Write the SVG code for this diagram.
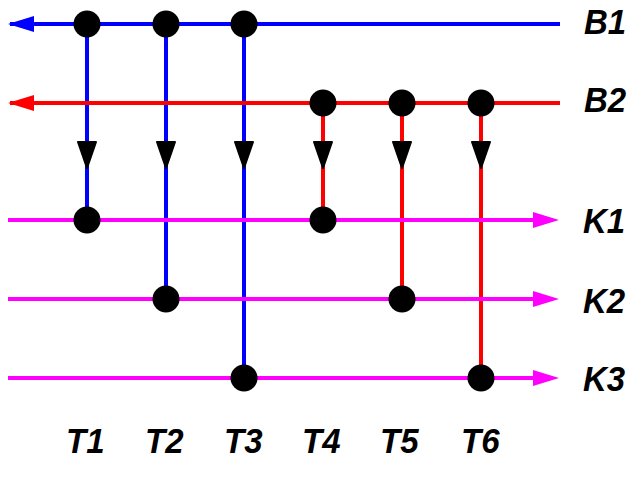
<svg xmlns="http://www.w3.org/2000/svg" width="642" height="504" viewBox="0 0 642 504">
<style>
.b{stroke:#0000ff;stroke-width:4;fill:none}
.r{stroke:#ff0000;stroke-width:4;fill:none}
.m{stroke:#ff00ff;stroke-width:4;fill:none}
.dot{fill:#000}
.va{fill:#000;stroke:#000;stroke-width:2;stroke-linejoin:round}
.lbl{font-family:"Liberation Sans",Arial,sans-serif;font-weight:bold;font-style:italic;font-size:33px;fill:#000}
</style>
<rect width="642" height="504" fill="#fff"/>
<g id="connectors">
<line class="b" x1="87" y1="24" x2="87" y2="220"/>
<line class="b" x1="166" y1="24" x2="166" y2="299"/>
<line class="b" x1="244" y1="24" x2="244" y2="378"/>
<line class="r" x1="323" y1="103" x2="323" y2="220"/>
<line class="r" x1="402" y1="103" x2="402" y2="299"/>
<line class="r" x1="481" y1="103" x2="481" y2="378"/>
</g>
<g id="B1">
<line class="b" x1="10" y1="24" x2="560" y2="24"/>
<polygon points="8,24 34,16 34,32" fill="#0000ff"/>
<text class="lbl" transform="translate(584,34) scale(1,1.07)">B1</text>
</g>
<g id="B2">
<line class="r" x1="10" y1="103" x2="560" y2="103"/>
<polygon points="8,103 34,95 34,111" fill="#ff0000"/>
<text class="lbl" transform="translate(584,112) scale(1,1.07)">B2</text>
</g>
<g id="K1">
<line class="m" x1="8" y1="220" x2="540" y2="220"/>
<polygon points="559,220 533,212 533,228" fill="#ff00ff"/>
<text class="lbl" transform="translate(583,233) scale(1,1.07)">K1</text>
</g>
<g id="K2">
<line class="m" x1="8" y1="299" x2="540" y2="299"/>
<polygon points="559,299 533,291 533,307" fill="#ff00ff"/>
<text class="lbl" transform="translate(583,313) scale(1,1.07)">K2</text>
</g>
<g id="K3">
<line class="m" x1="8" y1="378" x2="540" y2="378"/>
<polygon points="559,378 533,370 533,386" fill="#ff00ff"/>
<text class="lbl" transform="translate(583,391) scale(1,1.07)">K3</text>
</g>
<g id="junctions">
<circle class="dot" cx="87" cy="24" r="13.5"/>
<circle class="dot" cx="166" cy="24" r="13.5"/>
<circle class="dot" cx="244" cy="24" r="13.5"/>
<circle class="dot" cx="323" cy="103" r="13.5"/>
<circle class="dot" cx="402" cy="103" r="13.5"/>
<circle class="dot" cx="481" cy="103" r="13.5"/>
<circle class="dot" cx="87" cy="220" r="13.5"/>
<circle class="dot" cx="323" cy="220" r="13.5"/>
<circle class="dot" cx="166" cy="299" r="13.5"/>
<circle class="dot" cx="402" cy="299" r="13.5"/>
<circle class="dot" cx="244" cy="378" r="13.5"/>
<circle class="dot" cx="481" cy="378" r="13.5"/>
</g>
<g id="arrowheads">
<polygon class="va" points="78,142 96,142 87,168"/>
<polygon class="va" points="157,142 175,142 166,168"/>
<polygon class="va" points="235,142 253,142 244,168"/>
<polygon class="va" points="314,142 332,142 323,168"/>
<polygon class="va" points="393,142 411,142 402,168"/>
<polygon class="va" points="472,142 490,142 481,168"/>
</g>
<g id="T1"><text class="lbl" transform="translate(66,453) scale(1,1.07)">T1</text></g>
<g id="T2"><text class="lbl" transform="translate(145,453) scale(1,1.07)">T2</text></g>
<g id="T3"><text class="lbl" transform="translate(224,453) scale(1,1.07)">T3</text></g>
<g id="T4"><text class="lbl" transform="translate(302,453) scale(1,1.07)">T4</text></g>
<g id="T5"><text class="lbl" transform="translate(380,453) scale(1,1.07)">T5</text></g>
<g id="T6"><text class="lbl" transform="translate(461,453) scale(1,1.07)">T6</text></g>
</svg>
